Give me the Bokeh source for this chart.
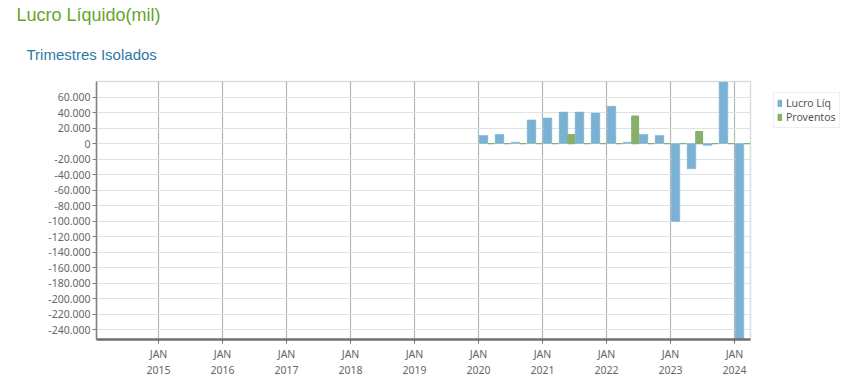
from bokeh.plotting import figure
from bokeh.layouts import row
from bokeh.models import FixedTicker, Range1d, Title, Legend, LegendItem, ColumnDataSource
from bokeh.embed import file_html
from bokeh.resources import INLINE

# ---- data ----
quarters = ["1T2020", "2T2020", "3T2020", "4T2020",
            "1T2021", "2T2021", "3T2021", "4T2021",
            "1T2022", "2T2022", "3T2022", "4T2022",
            "1T2023", "2T2023", "3T2023", "4T2023",
            "1T2024"]
quarter_start = [2020.0, 2020.25, 2020.5, 2020.75,
                 2021.0, 2021.25, 2021.5, 2021.75,
                 2022.0, 2022.25, 2022.5, 2022.75,
                 2023.0, 2023.25, 2023.5, 2023.75,
                 2024.0]
lucro_liq = [10400, 11700, 1700, 30500,
             33000, 40600, 40600, 39300,
             48100, 1700, 11700, 10400,
             -100400, -32600, -2300, 79500,
             -260000]
proventos = [0, 0, 0, 0,
             0, 11700, 0, 0,
             0, 35500, 0, 0,
             0, 15500, 0, 0,
             0]
series_names = ["Lucro Líq", "Proventos"]
x_ticks = [2015, 2016, 2017, 2018, 2019, 2020, 2021, 2022, 2023, 2024]
x_tick_labels = ["JAN\n2015", "JAN\n2016", "JAN\n2017", "JAN\n2018", "JAN\n2019",
                 "JAN\n2020", "JAN\n2021", "JAN\n2022", "JAN\n2023", "JAN\n2024"]
y_ticks = [-240000, -220000, -200000, -180000, -160000, -140000, -120000, -100000,
           -80000, -60000, -40000, -20000, 0, 20000, 40000, 60000]
y_tick_labels = ["-240.000", "-220.000", "-200.000", "-180.000", "-160.000", "-140.000",
                 "-120.000", "-100.000", "-80.000", "-60.000", "-40.000", "-20.000",
                 "0", "20.000", "40.000", "60.000"]

BLUE = "#7bb2d4"
GREEN = "#89b06a"
TICK_FONT = "Noto Sans"

blue_w = 0.135
green_w = 0.105
src = ColumnDataSource(dict(
    q=quarters,
    xb=[t + 0.01 + blue_w / 2 for t in quarter_start],
    xg=[t + 0.01 + blue_w + green_w / 2 for t in quarter_start],
    lucro=lucro_liq,
    prov=proventos,
))

H = 380
p = figure(width=752, height=H, output_backend="svg", toolbar_location=None,
           x_range=Range1d(2014.03, 2024.25), y_range=Range1d(-252500, 80000),
           min_border_left=96, min_border_right=2, min_border_top=81, min_border_bottom=34)

p.title.text = ""
p.title.visible = False
sub = Title(text="Trimestres Isolados", text_font="Liberation Sans", text_font_size="15px",
            text_font_style="normal", text_color="#2a7aa6", align="left", offset=-70, standoff=38)
p.add_layout(sub, "above")
main = Title(text="Lucro Líquido(mil)", text_font="Liberation Sans", text_font_size="18px",
             text_font_style="normal", text_color="#66a52a", align="left", offset=-80, standoff=0)
p.add_layout(main, "above")

p.vbar(x="xb", width=blue_w, top="lucro", bottom=0, source=src,
       fill_color=BLUE, line_color=BLUE, line_width=0.5)
p.vbar(x="xg", width=green_w, top="prov", bottom=0, source=src,
       fill_color=GREEN, line_color=GREEN, line_width=1.2)

p.xaxis.ticker = FixedTicker(ticks=x_ticks)
p.xaxis.major_label_overrides = dict(zip(x_ticks, x_tick_labels))
p.yaxis.ticker = FixedTicker(ticks=y_ticks)
p.yaxis.major_label_overrides = dict(zip(y_ticks, y_tick_labels))

for ax in (p.xaxis, p.yaxis):
    ax.major_label_text_font = TICK_FONT
    ax.major_label_text_font_size = "10.5px"
    ax.major_label_text_color = "#666666"
    ax.minor_tick_line_color = None
    ax.major_tick_in = 0

p.xaxis.axis_line_color = "#707070"
p.xaxis.axis_line_width = 2.5
p.xaxis.major_tick_line_color = "#707070"
p.xaxis.major_tick_out = 4
p.xaxis.major_label_standoff = 3
p.yaxis.axis_line_color = "#808080"
p.yaxis.axis_line_width = 1.5
p.yaxis.major_tick_line_color = "#808080"
p.yaxis.major_tick_out = 4
p.yaxis.major_label_standoff = 2

p.xgrid.grid_line_color = "#b5b5b5"
p.xgrid.grid_line_width = 1.2
p.ygrid.grid_line_color = "#e1e1e1"
p.ygrid.grid_line_width = 1.2
p.outline_line_color = "#dddddd"
p.outline_line_width = 1.5

# ---- legend panel (a second, axis-less figure to the right; its frame aligns with p's) ----
pl = figure(width=103, height=H, output_backend="svg", toolbar_location=None,
            x_range=Range1d(0, 1), y_range=Range1d(0, 1),
            min_border_left=0, min_border_right=0, min_border_top=0, min_border_bottom=0)
pl.axis.visible = False
pl.grid.visible = False
pl.outline_line_color = None
pl.title.visible = False
lb = pl.vbar(x="xb", width=blue_w, top="lucro", bottom=0, source=src,
             fill_color=BLUE, line_color=BLUE)
lg = pl.vbar(x="xg", width=green_w, top="prov", bottom=0, source=src,
             fill_color=GREEN, line_color=GREEN)
legend = Legend(items=[LegendItem(label=series_names[0], renderers=[lb]),
                       LegendItem(label=series_names[1], renderers=[lg])],
                location=(21, 211), margin=0, padding=3, spacing=0,
                glyph_width=5, glyph_height=8, label_height=9, label_standoff=4,
                label_text_font=TICK_FONT, label_text_font_size="10.5px", label_text_color="#555555",
                border_line_color="#dddddd", border_line_width=1,
                background_fill_color="white")
pl.add_layout(legend)

layout = row(p, pl, spacing=0)
open("out.html", "w").write(file_html(layout, INLINE))
